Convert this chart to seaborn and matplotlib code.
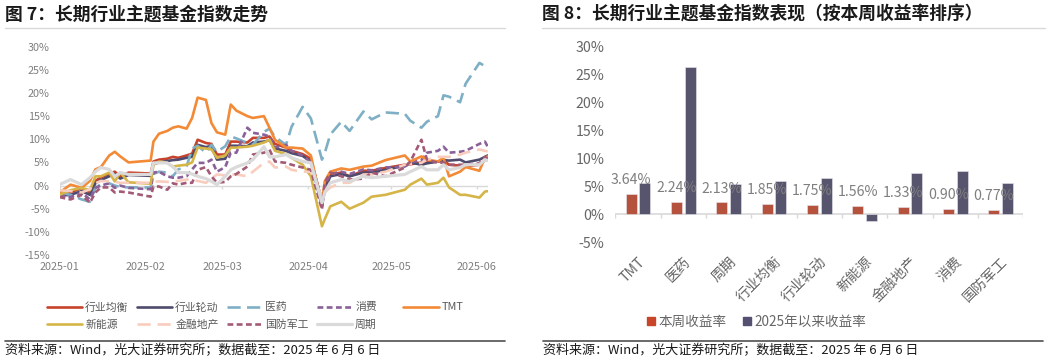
import numpy as np
import pandas as pd
import matplotlib
matplotlib.use("Agg")
import matplotlib.pyplot as plt
from matplotlib.lines import Line2D
import seaborn as sns

# ---------------- data: left chart (cumulative return, %) ----------------
dates = ["2025-01-02", "2025-01-06", "2025-01-10", "2025-01-13", "2025-01-15", "2025-01-17",
         "2025-01-20", "2025-01-22", "2025-01-24", "2025-01-27", "2025-02-04", "2025-02-05",
         "2025-02-07", "2025-02-10", "2025-02-12", "2025-02-14", "2025-02-17", "2025-02-19",
         "2025-02-21", "2025-02-24", "2025-02-26", "2025-02-28", "2025-03-03", "2025-03-05",
         "2025-03-07", "2025-03-11", "2025-03-13", "2025-03-17", "2025-03-19", "2025-03-21",
         "2025-03-25", "2025-03-27", "2025-03-31", "2025-04-03", "2025-04-07", "2025-04-08",
         "2025-04-10", "2025-04-14", "2025-04-17", "2025-04-22", "2025-04-25", "2025-04-30",
         "2025-05-07", "2025-05-09", "2025-05-13", "2025-05-15", "2025-05-19", "2025-05-21",
         "2025-05-23", "2025-05-27", "2025-05-29", "2025-06-03", "2025-06-05", "2025-06-06"]

hy_junheng = [-2.0, -1.5, -0.5, -1.5, 1.0, 1.8, 2.5, 3.0, 2.0, 2.8, 2.6, 5.2,
              5.6, 5.8, 6.2, 6.0, 6.5, 6.9, 9.9, 9.2, 9.0, 6.7, 6.7, 9.5,
              9.5, 9.3, 10.3, 10.3, 10.6, 9.0, 8.2, 7.5, 6.8, 5.8, -3.4, -0.2,
              2.4, 2.8, 2.0, 3.2, 3.2, 3.8, 4.5, 4.6, 5.0, 5.0, 5.2, 5.5,
              4.5, 4.3, 4.2, 4.5, 5.5, 6.0]
hy_lundong = [-2.2, -2.0, -1.2, -2.0, 0.5, 1.2, 2.0, 2.5, 1.5, 2.3, 2.1, 4.6,
              5.0, 5.3, 5.5, 5.6, 6.0, 6.2, 8.8, 8.3, 8.6, 5.6, 5.8, 8.6,
              8.6, 8.5, 9.3, 9.5, 9.8, 8.0, 7.5, 7.0, 6.4, 5.2, -4.5, -1.0,
              2.0, 2.5, 2.0, 2.8, 2.8, 3.4, 4.3, 5.0, 4.5, 4.8, 5.2, 5.5,
              5.4, 5.6, 5.0, 5.6, 6.2, 6.5]
yiyao = [-1.5, -2.0, -3.0, -3.5, -0.5, 0.3, 0.5, 0.0, -0.3, -0.4, -0.4, 2.5,
         3.0, 2.8, 2.0, 3.5, 4.1, 8.0, 8.6, 7.1, 8.8, 7.3, 8.5, 10.6,
         10.2, 9.2, 8.8, 11.6, 12.3, 10.5, 8.8, 12.7, 17.0, 14.5, 5.6, 7.0,
         11.0, 13.8, 11.8, 16.0, 14.3, 15.8, 15.5, 14.0, 12.5, 13.8, 15.0, 19.5,
         19.2, 18.0, 22.0, 26.5, 25.8, 26.4]
xiaofei = [-2.0, -2.5, -1.5, -3.0, -0.5, 0.0, 0.5, -0.5, 0.0, -0.5, -0.8, 2.8,
           3.0, 2.0, 1.7, 1.7, 2.0, 3.5, 4.9, 4.9, 5.6, 3.0, 4.0, 7.1,
           7.1, 12.5, 11.4, 11.0, 10.6, 8.2, 8.8, 7.5, 6.5, 5.0, -3.0, 0.0,
           2.5, 3.0, 2.5, 3.5, 3.3, 3.9, 4.1, 5.0, 5.5, 7.1, 7.5, 8.4,
           7.1, 7.3, 7.5, 9.0, 9.5, 8.4]
tmt = [-1.5, 0.2, -0.5, 1.0, 3.5, 4.0, 6.5, 7.3, 6.3, 5.0, 5.4, 9.5,
       11.2, 11.8, 12.5, 12.8, 12.3, 14.6, 19.0, 18.5, 13.5, 11.5, 11.0, 17.5,
       16.2, 15.0, 14.6, 15.0, 12.5, 9.9, 8.2, 8.2, 8.0, 6.5, -4.5, 0.9,
       3.0, 3.7, 3.4, 4.1, 4.3, 5.5, 6.5, 5.2, 6.3, 5.6, 5.2, 6.0,
       2.0, 3.0, 4.0, 3.2, 6.0, 6.3]
xinnengyuan = [-2.0, -1.0, -0.5, -1.0, 2.0, 2.0, 2.8, 0.9, 2.8, 0.7, 0.4, 4.5,
               5.2, 4.9, 4.1, 4.3, 4.5, 5.0, 8.2, 8.0, 7.8, 6.0, 6.5, 8.2,
               8.2, 8.4, 8.6, 9.3, 9.9, 7.5, 6.8, 6.0, 4.5, 2.0, -8.8, -7.3,
               -4.5, -3.5, -5.0, -3.7, -2.4, -2.0, -0.9, 0.2, 1.5, 0.2, 0.6, 1.7,
               -0.4, -2.0, -2.0, -2.6, -1.3, -1.2]
jinrong_dc = [-1.0, -1.2, -1.5, -0.8, 0.5, 1.0, 0.9, 0.8, 0.6, 0.6, 0.6, 0.8,
              0.9, 0.8, 0.9, 1.0, 1.3, 1.3, 1.0, 0.6, 1.5, 2.4, 2.2, 2.4,
              2.4, 2.0, 3.0, 4.9, 5.2, 3.9, 4.1, 3.4, 3.0, 3.0, -2.4, -1.5,
              -0.4, 0.6, 0.6, 2.4, 2.4, 3.0, 4.5, 4.7, 4.9, 5.6, 6.2, 6.2,
              6.2, 6.7, 7.1, 7.8, 7.5, 7.4]
guofang = [-2.5, -3.0, -2.0, -3.7, -1.5, -0.4, -0.4, -1.5, -1.3, -1.5, -2.4, -0.2,
           -0.2, -0.9, 0.5, 0.2, 0.6, 0.6, 3.4, 4.0, 2.0, 0.6, 0.8, 2.0,
           2.5, 4.1, 6.7, 7.1, 7.8, 5.2, 4.9, 4.5, 3.9, 3.4, -5.2, 0.6,
           2.8, 2.0, 1.3, 1.5, 2.8, 2.0, 3.9, 5.2, 9.9, 5.6, 4.9, 5.0,
           4.5, 4.5, 4.5, 4.8, 6.2, 5.7]
zhouqi = [0.2, 1.3, 0.2, 1.7, 3.0, 3.9, 3.5, 2.0, 2.8, 2.4, 2.4, 4.9,
          4.9, 4.9, 4.1, 2.8, 2.8, 2.5, 2.0, 1.5, 0.9, 0.2, 2.0, 3.4,
          4.0, 4.9, 5.6, 8.4, 6.2, 6.2, 6.7, 6.0, 5.2, 4.9, -3.7, -1.5,
          0.6, 1.3, 0.9, 2.0, 1.7, 2.0, 2.4, 3.0, 4.1, 3.4, 3.4, 4.5,
          3.4, 3.9, 4.5, 4.5, 5.6, 5.4]

line_names = ["行业均衡", "行业轮动", "医药", "消费", "TMT", "新能源", "金融地产", "国防军工", "周期"]
x_tick_dates = ["2025-01-02", "2025-02-02", "2025-03-02", "2025-04-02", "2025-05-02", "2025-06-02"]
x_tick_labels = ["2025-01", "2025-02", "2025-03", "2025-04", "2025-05", "2025-06"]

# ---------------- data: right chart ----------------
bar_cats = ["TMT", "医药", "周期", "行业均衡", "行业轮动", "新能源", "金融地产", "消费", "国防军工"]
week_ret = [3.64, 2.24, 2.13, 1.85, 1.75, 1.56, 1.33, 0.90, 0.77]
ytd_ret = [5.6, 26.4, 5.4, 5.95, 6.55, -1.2, 7.4, 7.8, 5.7]
bar_series = ["本周收益率", "2025年以来收益率"]

# ---------------- style ----------------
sns.set_theme(style="white")
plt.rcParams["font.family"] = ["Noto Sans CJK SC", "DejaVu Sans"]
plt.rcParams["axes.unicode_minus"] = False

W, H = 1054, 362
fig = plt.figure(figsize=(W / 100, H / 100), dpi=100)


def px_axes(x0, y0, x1, y1):
    return fig.add_axes([x0 / W, 1 - y1 / H, (x1 - x0) / W, (y1 - y0) / H])


def hline(x0, x1, y, color, lw):
    fig.add_artist(Line2D([x0 / W, x1 / W], [1 - y / H, 1 - y / H], transform=fig.transFigure,
                          color=color, lw=lw))


line_styles = {
    "行业均衡": dict(color="#C8432B", lw=1.9, ls="-"),
    "行业轮动": dict(color="#4F4B6E", lw=1.9, ls="-"),
    "医药": dict(color="#7FAFC5", lw=1.9, ls=(0, (5.0, 2.4))),
    "消费": dict(color="#8A6098", lw=1.9, ls=(0, (2.2, 1.3))),
    "TMT": dict(color="#F28A36", lw=1.9, ls="-"),
    "新能源": dict(color="#D6B548", lw=1.9, ls="-"),
    "金融地产": dict(color="#F9CDBE", lw=1.9, ls=(0, (5.0, 2.6))),
    "国防军工": dict(color="#A35A76", lw=1.9, ls=(0, (2.2, 1.3))),
    "周期": dict(color="#DADADA", lw=2.3, ls="-"),
}
line_values = [hy_junheng, hy_lundong, yiyao, xiaofei, tmt, xinnengyuan, jinrong_dc, guofang, zhouqi]

# ---------------- left chart ----------------
ax1 = px_axes(59.5, 46.7, 487.7, 255)
dt = pd.to_datetime(dates)
ax1.axhline(0, color="#D9D9D9", lw=1.0, zorder=1)
tick_dt = pd.to_datetime(x_tick_dates)
ax1.vlines(tick_dt, -0.7, 0, color="#D9D9D9", lw=1.0, zorder=1)
for name, vals in zip(line_names, line_values):
    st = line_styles[name]
    sns.lineplot(x=dt, y=vals, ax=ax1, color=st["color"], lw=st["lw"], linestyle=st["ls"],
                 zorder=3, solid_joinstyle="round", dash_capstyle="butt")
ax1.set_xlim(pd.Timestamp("2025-01-02"), pd.Timestamp("2025-06-06"))
ax1.set_ylim(-15, 30)
ax1.set_yticks(np.arange(-15, 31, 5))
ax1.set_yticklabels([f"{v}%" for v in range(-15, 31, 5)])
ax1.set_xticks(tick_dt)
ax1.set_xticklabels(x_tick_labels)
ax1.tick_params(axis="both", length=0, labelsize=7.8, labelcolor="#7F7F7F")
ax1.tick_params(axis="y", pad=7)
ax1.tick_params(axis="x", pad=5)
ax1.set_xlabel("")
ax1.set_ylabel("")
for s in ax1.spines.values():
    s.set_visible(False)
ax1.grid(False)

# legend (one entry per slot, Excel-like uniform grid)
col_x = [46.7, 136.7, 226.7, 316.7, 403.0]
row_y = [307.3, 324.7]
slots = [(0, 0), (0, 1), (0, 2), (0, 3), (0, 4), (1, 0), (1, 1), (1, 2), (1, 3)]
for name, (r, c) in zip(line_names, slots):
    st = line_styles[name]
    h = Line2D([], [], color=st["color"], lw=st["lw"], ls=st["ls"])
    fig.legend([h], [name], loc="center left", bbox_to_anchor=(col_x[c] / W, 1 - row_y[r] / H),
               frameon=False, fontsize=7.8, handlelength=3.3, handletextpad=0.25,
               borderpad=0, borderaxespad=0, labelcolor="#595959")

# ---------------- right chart ----------------
ax2 = px_axes(615.3, 46.7, 1023.3, 242.3)
df = pd.DataFrame({
    "cat": bar_cats * 2,
    "val": week_ret + ytd_ret,
    "series": [bar_series[0]] * len(bar_cats) + [bar_series[1]] * len(bar_cats),
})
sns.barplot(data=df, x="cat", y="val", hue="series", order=bar_cats, hue_order=bar_series,
            palette=["#C8452A", "#545071"], width=0.6, gap=0.2, ax=ax2, legend=False,
            edgecolor="#E8E6EE", linewidth=0.4, zorder=3)
ax2.axhline(0, color="#D9D9D9", lw=1.2, zorder=2)
ax2.vlines(np.arange(-0.5, len(bar_cats), 1.0), -0.7, 0, color="#D9D9D9", lw=1.0, zorder=2)
ax2.bar_label(ax2.containers[0], labels=[f"{v:.2f}%" for v in week_ret], padding=5,
              color="#7F7F7F", fontsize=10.2, zorder=5)
ax2.set_xlim(-0.5, len(bar_cats) - 0.5)
ax2.set_ylim(-5, 30)
ax2.set_yticks(np.arange(-5, 31, 5))
ax2.set_yticklabels([f"{v}%" for v in range(-5, 31, 5)])
ax2.set_xticks(range(len(bar_cats)))
ax2.set_xticklabels(bar_cats, rotation=45, ha="right", rotation_mode="anchor")
ax2.tick_params(axis="both", length=0, labelsize=10.2, labelcolor="#666666")
ax2.tick_params(axis="y", pad=8)
ax2.tick_params(axis="x", pad=9)
ax2.set_xlabel("")
ax2.set_ylabel("")
for s in ax2.spines.values():
    s.set_visible(False)
ax2.grid(False)

bh = [Line2D([], [], marker="s", ls="", color="#C8452A", markersize=5.5),
      Line2D([], [], marker="s", ls="", color="#545071", markersize=5.5)]
fig.legend(bh, bar_series, loc="center", bbox_to_anchor=(757 / W, 1 - 321.7 / H), ncol=2,
           frameon=False, fontsize=9.8, handlelength=0.6, handletextpad=0.25,
           columnspacing=1.2, borderpad=0, labelcolor="#666666")

# ---------------- titles / footers ----------------
fig.text(5 / W, 1 - 15 / H, "图 7：长期行业主题基金指数走势", fontsize=12.8, fontweight="bold",
         va="center", ha="left", color="#1A1A1A")
fig.text(542 / W, 1 - 15 / H, "图 8：长期行业主题基金指数表现（按本周收益率排序）", fontsize=12.8,
         fontweight="bold", va="center", ha="left", color="#1A1A1A")
hline(5, 505, 27.5, "#D9D9D9", 1.0)
hline(542, 1045, 27.5, "#D9D9D9", 1.0)
hline(5, 505, 340.7, "#505050", 1.2)
hline(543, 1043, 340.7, "#505050", 1.2)
src = "资料来源：Wind，光大证券研究所；数据截至：2025 年 6 月 6 日"
fig.text(5 / W, 1 - 351 / H, src, fontsize=9.4, va="center", ha="left", color="#1A1A1A")
fig.text(543 / W, 1 - 351 / H, src, fontsize=9.4, va="center", ha="left", color="#1A1A1A")

fig.savefig("out.png", dpi=100)
